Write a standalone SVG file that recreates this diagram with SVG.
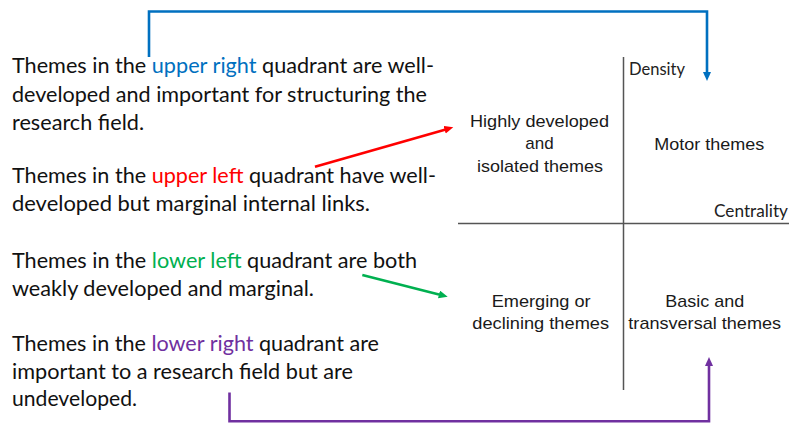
<svg xmlns="http://www.w3.org/2000/svg" width="790" height="423" viewBox="0 0 790 423">
  <style>
    .body { font-family: Lato, "Open Sans", "Liberation Sans", sans-serif; font-size: 20.5px; fill: #111; }
    .axis { font-family: Lato, "Open Sans", "Liberation Sans", sans-serif; font-size: 16.5px; fill: #222; }
    .quad { font-family: "Liberation Sans", Arial, sans-serif; font-size: 17px; fill: #1a1a1a; text-anchor: middle; }
    .blue { fill: #0070C0; }
    .red { fill: #FF0000; }
    .green { fill: #00B050; }
    .purple { fill: #7030A0; }
    .grid { stroke: #555; stroke-width: 1.5; fill: none; }
    .link { fill: none; stroke-width: 2.6; stroke-linejoin: miter; }
  </style>
  <defs>
    <marker id="head-blue" markerUnits="userSpaceOnUse" markerWidth="10" markerHeight="9" refX="3" refY="4" orient="auto">
      <path d="M0,0 L9,4 L0,8 z" fill="#0070C0"/>
    </marker>
    <marker id="head-red" markerUnits="userSpaceOnUse" markerWidth="10" markerHeight="9" refX="3" refY="4" orient="auto">
      <path d="M0,0 L9,4 L0,8 z" fill="#FF0000"/>
    </marker>
    <marker id="head-green" markerUnits="userSpaceOnUse" markerWidth="10" markerHeight="9" refX="3" refY="4" orient="auto">
      <path d="M0,0 L9,4 L0,8 z" fill="#00B050"/>
    </marker>
    <marker id="head-purple" markerUnits="userSpaceOnUse" markerWidth="10" markerHeight="9" refX="3" refY="4" orient="auto">
      <path d="M0,0 L9,4 L0,8 z" fill="#7030A0"/>
    </marker>
  </defs>

  <rect width="790" height="423" fill="#ffffff"/>

  <!-- explanatory paragraphs -->
  <g id="note-upper-right">
    <text class="body" x="12" y="73" textLength="422" lengthAdjust="spacingAndGlyphs">Themes in the <tspan class="blue">upper right</tspan> quadrant are well-</text>
    <text class="body" x="12" y="101.5" textLength="415" lengthAdjust="spacingAndGlyphs">developed and important for structuring the</text>
    <text class="body" x="12" y="129.5" textLength="132" lengthAdjust="spacingAndGlyphs">research field.</text>
  </g>
  <g id="note-upper-left">
    <text class="body" x="12" y="183" textLength="424" lengthAdjust="spacingAndGlyphs">Themes in the <tspan class="red">upper left</tspan> quadrant have well-</text>
    <text class="body" x="12" y="211" textLength="358" lengthAdjust="spacingAndGlyphs">developed but marginal internal links.</text>
  </g>
  <g id="note-lower-left">
    <text class="body" x="12" y="267.5" textLength="405" lengthAdjust="spacingAndGlyphs">Themes in the <tspan class="green">lower left</tspan> quadrant are both</text>
    <text class="body" x="12" y="295.5" textLength="302" lengthAdjust="spacingAndGlyphs">weakly developed and marginal.</text>
  </g>
  <g id="note-lower-right">
    <text class="body" x="12" y="351" textLength="367" lengthAdjust="spacingAndGlyphs">Themes in the <tspan class="purple">lower right</tspan> quadrant are</text>
    <text class="body" x="12" y="378.5" textLength="341" lengthAdjust="spacingAndGlyphs">important to a research field but are</text>
    <text class="body" x="12" y="406" textLength="125" lengthAdjust="spacingAndGlyphs">undeveloped.</text>
  </g>

  <!-- strategic diagram axes -->
  <g id="axes">
    <line class="grid" x1="623.5" y1="57" x2="623.5" y2="390"/>
    <line class="grid" x1="458" y1="223.5" x2="789" y2="223.5"/>
    <text class="axis" x="629" y="75" textLength="56" lengthAdjust="spacingAndGlyphs">Density</text>
    <text class="axis" x="714" y="216.5" textLength="74" lengthAdjust="spacingAndGlyphs">Centrality</text>
  </g>

  <!-- quadrants -->
  <g id="quadrant-upper-left">
    <text class="quad" x="539.5" y="127" textLength="139" lengthAdjust="spacingAndGlyphs">Highly developed</text>
    <text class="quad" x="539.5" y="149">and</text>
    <text class="quad" x="540" y="171.5" textLength="126" lengthAdjust="spacingAndGlyphs">isolated themes</text>
  </g>
  <g id="quadrant-upper-right">
    <text class="quad" x="709.3" y="150" textLength="110" lengthAdjust="spacingAndGlyphs">Motor themes</text>
  </g>
  <g id="quadrant-lower-left">
    <text class="quad" x="541.2" y="306.7" textLength="99" lengthAdjust="spacingAndGlyphs">Emerging or</text>
    <text class="quad" x="540.7" y="329.3" textLength="136.7" lengthAdjust="spacingAndGlyphs">declining themes</text>
  </g>
  <g id="quadrant-lower-right">
    <text class="quad" x="704.7" y="306.7" textLength="79" lengthAdjust="spacingAndGlyphs">Basic and</text>
    <text class="quad" x="704.7" y="329.3" textLength="152.7" lengthAdjust="spacingAndGlyphs">transversal themes</text>
  </g>

  <!-- connectors from notes to quadrants -->
  <g id="connectors">
    <path class="link" stroke="#0070C0" d="M149,57 V11.5 H707 V75" marker-end="url(#head-blue)"/>
    <path class="link" stroke="#FF0000" d="M315,166.7 L447.5,128.9" marker-end="url(#head-red)"/>
    <path class="link" stroke="#00B050" d="M362.3,275 L441.9,295.2" marker-end="url(#head-green)"/>
    <path class="link" stroke="#7030A0" d="M229.5,392.5 V421.3 H709 V363" marker-end="url(#head-purple)"/>
  </g>
</svg>
